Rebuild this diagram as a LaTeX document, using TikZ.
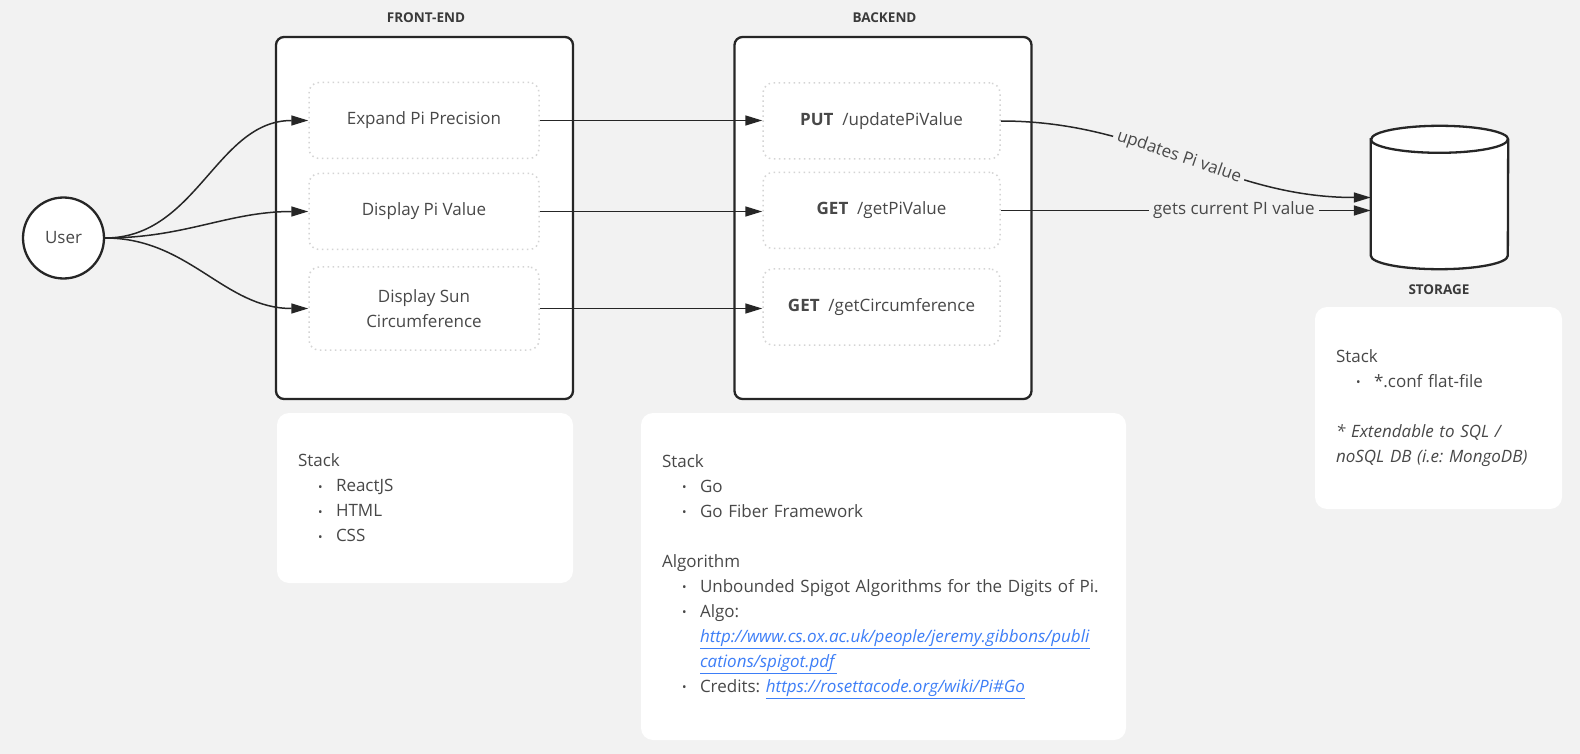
\documentclass[tikz,border=0pt]{standalone}
\usepackage{fontspec}
\setmainfont{Open Sans}
\usetikzlibrary{positioning,arrows.meta}
\frenchspacing

\definecolor{bgcol}{HTML}{F2F2F2}
\definecolor{txtcol}{HTML}{484848}
\definecolor{dotcol}{HTML}{D4D4D4}
\definecolor{linkcol}{HTML}{3D7EF7}

\newcommand{\bitem}{\hspace*{20pt}\makebox[18pt][l]{\fontsize{12}{12}\selectfont\raisebox{0.5pt}{•}}}
\newcommand{\weblink}[1]{\textcolor{linkcol}{\underline{\textit{#1}}}}

\tikzset{
  container/.style={draw=black!85, line width=2.3pt, rounded corners=8pt, fill=white, minimum width=297pt, minimum height=362pt},
  feature/.style={draw=dotcol, line width=1.5pt, dash pattern=on 1.5pt off 3.5pt, rounded corners=10pt, minimum width=230pt, minimum height=76pt, align=center, text=txtcol, font=\fontsize{17}{25}\selectfont},
  endpoint/.style={feature, minimum width=237pt},
  note/.style={fill=white, rounded corners=12pt, align=left, text=txtcol, inner xsep=21pt, font=\fontsize{17}{25}\selectfont},
  title/.style={text=txtcol!80!black, font=\fontsize{13.5}{16}\selectfont\bfseries},
  link/.style={-{Triangle[length=17pt,width=10pt]}, line width=1.5pt, black!85},
  linklabel/.style={fill=bgcol, text=txtcol, font=\fontsize{17}{20}\selectfont, inner sep=4pt}
}

\begin{document}
\begin{tikzpicture}[x=1pt,y=-1pt]
\useasboundingbox (0,0) rectangle (1580,754);
\fill[bgcol] (0,0) rectangle (1580,754);

% front-end
\node[title] (fetitle) at (426,17.5) {FRONT-END};
\node[container] (fe) at (424.5,218) {};
\node[feature] (expand) at (424,120.5) {Expand Pi Precision};
\node[feature] (showpi) at (424,211.5) {Display Pi Value};
\node[feature, minimum height=83pt] (showsun) at (424,308.5) {Display Sun\\Circumference};

% backend
\node[title] (betitle) at (884.5,17.5) {BACKEND};
\node[container] (be) at (883,218) {};
\node[endpoint] (putpi) at (881.5,121) {\textbf{PUT}\ \ /updatePiValue};
\node[endpoint] (getpi) at (881.5,210.5) {\textbf{GET}\ \ /getPiValue};
\node[endpoint] (getcirc) at (881.5,307) {\textbf{GET}\ \ /getCircumference};

% user
\node[draw=black!85, line width=2.3pt, fill=white, circle, minimum size=81pt, text=txtcol, font=\fontsize{17}{20}\selectfont] (user) at (63.5,238) {User};

% storage
\node[minimum width=137pt, minimum height=143pt, inner sep=0pt] (storage) at (1439.5,197.5) {};
\draw[line width=2.3pt, draw=black!85, fill=white]
  ([yshift=-13.5pt]storage.north west) -- ([yshift=13.5pt]storage.south west)
  arc[start angle=180, end angle=360, x radius=68.5pt, y radius=13.5pt]
  -- ([yshift=-13.5pt]storage.north east)
  arc[start angle=0, end angle=180, x radius=68.5pt, y radius=13.5pt] -- cycle;
\draw[line width=2.3pt, draw=black!85] ([yshift=-13.5pt]storage.north west)
  arc[start angle=180, end angle=360, x radius=68.5pt, y radius=13.5pt];
\node[title] (sttitle) at (1439,290) {STORAGE};

% connectors
\draw[link] (user.east) to[out=0,in=180] (expand.west);
\draw[link] (user.east) to[out=0,in=180] (showpi.west);
\draw[link] (user.east) to[out=0,in=180] (showsun.west);
\draw[link] (expand.east) -- (expand.east -| putpi.west);
\draw[link] (showpi.east) -- (showpi.east -| getpi.west);
\draw[link] (showsun.east) -- (showsun.east -| getcirc.west);
\draw[link] (putpi.east) to[out=0,in=180] node[linklabel, sloped, pos=0.48] {updates Pi value} (storage.west);
\draw[link] (getpi.east) -- node[linklabel, pos=0.63] {gets current PI value} (getpi.east -| storage.west);

% stack notes
\node[note, text width=254pt, minimum height=170pt] (fenote) at (425,498)
  {Stack\\ \bitem ReactJS\\ \bitem HTML\\ \bitem CSS};
\node[note, text width=443pt, minimum height=327pt] (benote) at (883.5,576.5)
  {Stack\\ \bitem Go\\ \bitem Go Fiber Framework\\[25pt]
   Algorithm\\ \bitem\mbox{Unbounded Spigot Algorithms for the Digits of Pi.}\\
   \bitem Algo:\\
   \hspace*{38pt}\weblink{http://www.cs.ox.ac.uk/people/jeremy.gibbons/publi}\\
   \hspace*{38pt}\weblink{cations/spigot.pdf}\\
   \bitem Credits: \weblink{https://rosettacode.org/wiki/Pi\#Go}};
\node[note, text width=205pt, minimum height=202pt] (stnote) at (1438.5,408)
  {Stack\\ \bitem *.conf flat-file\\[25pt]
   \textit{* Extendable to SQL /}\\ \mbox{\textit{noSQL DB (i.e: MongoDB)}}};
\end{tikzpicture}
\end{document}
